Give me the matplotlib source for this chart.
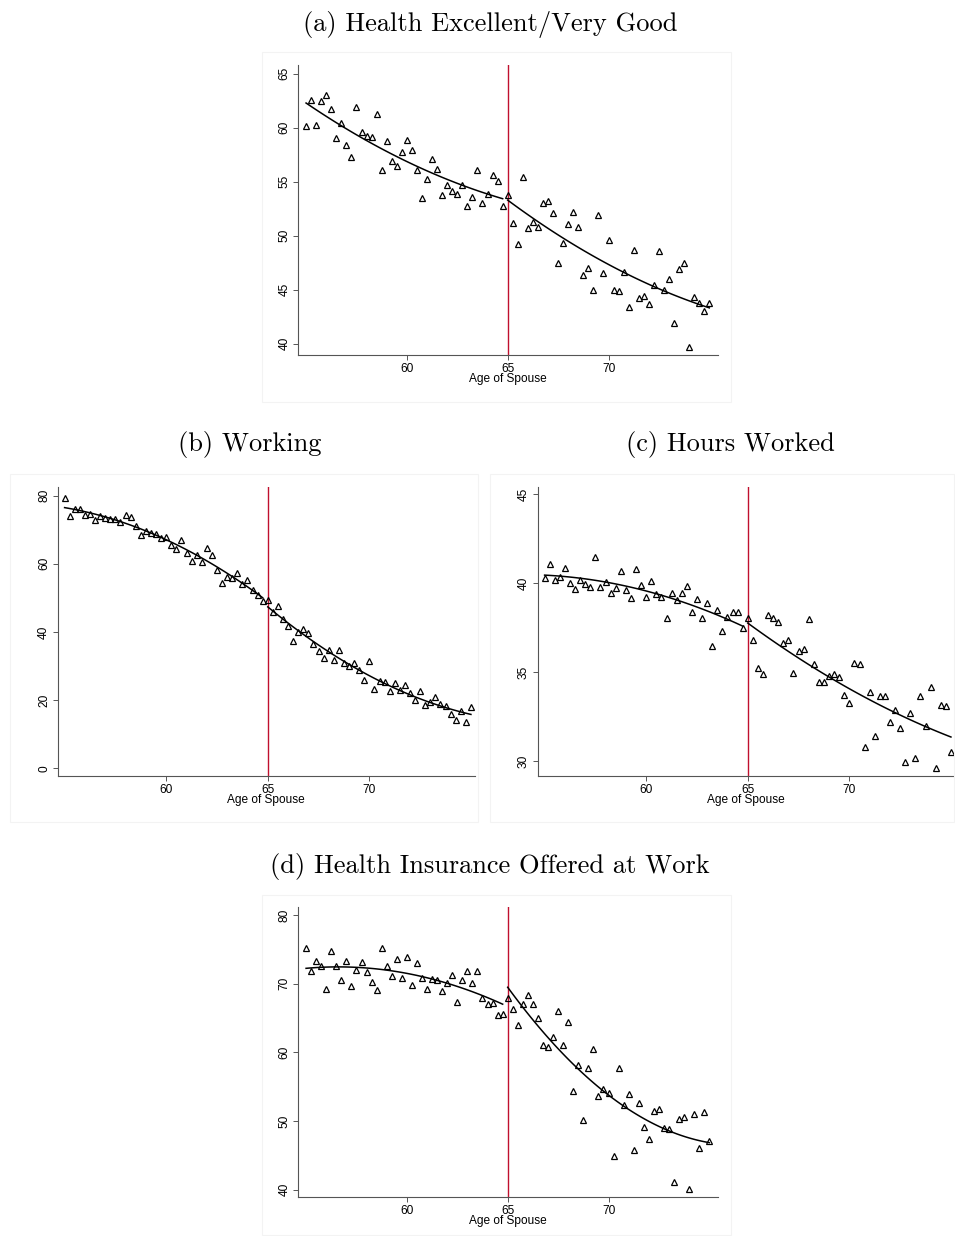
import numpy as np
import matplotlib
matplotlib.use("Agg")
import matplotlib.pyplot as plt
from matplotlib.patches import Rectangle

# quarterly age bins of the spouse, 55.00 ... 75.00
age = np.arange(55, 75.01, 0.25)

health = [60.15, 62.6, 60.25, 62.5, 63.05, 61.7, 59.04, 60.46, 58.4, 57.25,
          61.9, 59.6, 59.2, 59.1, 61.3, 56.05, 58.77, 56.9, 56.45, 57.75,
          58.86, 57.9, 56.05, 53.46, 55.25, 57.13, 56.14, 53.8, 54.7, 54.1,
          53.9, 54.7, 52.75, 53.6, 56.1, 53.06, 53.86, 55.65, 55.1, 52.7,
          53.8, 51.2, 49.2, 55.4, 50.7, 51.3, 50.8, 53.05, 53.2, 52.07,
          47.5, 49.35, 51.05, 52.2, 50.8, 46.4, 46.98, 44.94, 51.9, 46.5,
          49.6, 44.97, 44.9, 46.6, 43.4, 48.7, 44.2, 44.4, 43.64, 45.4,
          48.55, 45.0, 45.99, 41.94, 46.9, 47.5, 39.7, 44.3, 43.73, 43.0,
          43.8]

working = [79.2, 74.0, 76.05, 75.95, 74.4, 74.6, 72.9, 74.0, 73.5, 73.0,
           73.0, 72.3, 74.3, 73.8, 71.0, 68.4, 69.5, 68.9, 68.7, 67.5,
           67.9, 65.6, 64.3, 66.9, 63.2, 60.9, 62.5, 60.5, 64.7, 62.7,
           58.1, 54.4, 56.0, 55.9, 57.4, 54.1, 55.1, 52.3, 50.9, 49.1,
           49.3, 45.8, 47.7, 43.7, 41.6, 37.4, 39.9, 41.0, 39.8, 36.6,
           34.4, 32.5, 34.6, 31.7, 34.8, 30.8, 30.1, 31.0, 28.8, 25.9,
           31.5, 23.2, 25.5, 25.2, 22.6, 25.1, 23.0, 24.3, 22.1, 19.9,
           22.7, 18.5, 19.6, 21.0, 18.8, 18.2, 16.0, 14.3, 16.8, 13.6,
           18.0]

hours = [40.32, 41.09, 40.21, 40.34, 40.88, 40.02, 39.70, 40.19, 39.96, 39.79,
         41.48, 39.79, 40.09, 39.44, 39.76, 40.67, 39.63, 39.18, 40.79, 39.93,
         39.25, 40.13, 39.42, 39.23, 38.05, 39.46, 39.06, 39.46, 39.83, 38.37,
         39.14, 38.05, 38.88, 36.46, 38.48, 37.34, 38.13, 38.37, 38.41, 37.49,
         38.07, 36.84, 35.24, 34.89, 38.24, 38.07, 37.83, 36.67, 36.82, 34.94,
         36.22, 36.31, 38.0, 35.45, 34.46, 34.44, 34.81, 34.91, 34.76, 33.71,
         33.26, 35.54, 35.49, 30.79, 33.88, 31.4, 33.65, 33.65, 32.19, 32.88,
         31.85, 29.98, 32.72, 30.19, 33.67, 31.97, 34.2, 29.63, 33.15, 33.09,
         30.51]

insurance = [75.25, 71.85, 73.26, 72.53, 69.27, 74.76, 72.67, 70.49, 73.26, 69.66,
             71.99, 73.21, 71.70, 70.29, 69.13, 75.25, 72.53, 71.17, 73.69, 70.92,
             73.84, 69.81, 73.06, 70.92, 69.27, 70.68, 70.58, 68.98, 70.19, 71.31,
             67.38, 70.53, 71.85, 70.1, 71.90, 67.91, 67.04, 67.18, 65.43, 65.58,
             67.91, 66.35, 63.97, 67.08, 68.40, 67.08, 65.09, 61.11, 60.81, 62.27,
             66.01, 61.15, 64.46, 54.40, 58.24, 50.17, 57.80, 60.57, 53.67, 54.74,
             54.11, 44.92, 57.66, 52.36, 53.96, 45.80, 52.70, 49.15, 47.40, 51.48,
             51.77, 49.0, 48.91, 41.08, 50.32, 50.56, 40.11, 51.09, 46.14, 51.39,
             47.06]

titles = ["(a) Health Excellent/Very Good", "(b) Working",
          "(c) Hours Worked", "(d) Health Insurance Offered at Work"]
series = [health, working, hours, insurance]
yticks = [[40, 45, 50, 55, 60, 65], [0, 20, 40, 60, 80],
          [30, 35, 40, 45], [40, 50, 60, 70, 80]]
ylims = [(38.95, 65.8), (-2.25, 82.6), (29.18, 45.43), (38.93, 81.2)]
xlims = [(54.6, 75.43), (54.66, 75.2), (54.66, 75.2), (54.6, 75.43)]
cutoff = 65

W, H = 955, 1236
fig = plt.figure(figsize=(W / 100, H / 100), dpi=100)

# axes boxes in pixels: left, top, right, bottom
boxes = [(298, 65, 718, 355), (57.7, 486.7, 475, 776),
         (537.7, 486.7, 955, 776), (298, 907, 718, 1197)]
title_pos = [(490, 24), (250, 445), (730, 445), (490, 866)]
regions = [(262, 52, 731, 402), (10, 474, 478, 822),
           (490, 474, 954, 822), (262, 895, 731, 1235)]

sans = "Liberation Sans"

for i in range(4):
    l, t, r, b = boxes[i]
    ax = fig.add_axes([l / W, 1 - b / H, (r - l) / W, (b - t) / H])
    y = np.array(series[i])

    rl, rt, rr, rb = regions[i]
    fig.patches.append(Rectangle((rl / W, 1 - rb / H), (rr - rl) / W, (rb - rt) / H,
                                 transform=fig.transFigure, fill=False,
                                 edgecolor="#f3f3f3", lw=0.8, zorder=0))

    ax.axvline(cutoff, color="#c0102e", lw=1.0, zorder=1)

    # quadratic fit on each side of the cutoff
    for mask in (age < cutoff, age >= cutoff):
        c = np.polyfit(age[mask], y[mask], 2)
        xs = np.linspace(age[mask].min(), age[mask].max(), 100)
        ax.plot(xs, np.polyval(c, xs), color="black", lw=1.1, zorder=2)

    ax.plot(age, y, linestyle="none", marker="^", markersize=5.0,
            markerfacecolor="none", markeredgecolor="black",
            markeredgewidth=0.9, zorder=3)

    ax.set_xlim(*xlims[i])
    ax.set_ylim(*ylims[i])
    ax.set_xticks([60, 65, 70])
    ax.set_yticks(yticks[i])
    for s in ("top", "right"):
        ax.spines[s].set_visible(False)
    for s in ("left", "bottom"):
        ax.spines[s].set_color("#555555")
        ax.spines[s].set_linewidth(0.8)
    ax.tick_params(direction="out", length=3.5, width=0.7, color="#555555",
                   labelsize=8.6, pad=2)
    for lab in ax.get_xticklabels() + ax.get_yticklabels():
        lab.set_family(sans)
    for lab in ax.get_yticklabels():
        lab.set_rotation(90)
        lab.set_va("center")
    ax.set_xlabel("Age of Spouse", family=sans, fontsize=8.6, labelpad=-1)

    tx, ty = title_pos[i]
    fig.text(tx / W, 1 - ty / H, titles[i], family="cmr10", fontsize=19,
             ha="center", va="center")

fig.savefig("out.png", dpi=100, facecolor="white")
